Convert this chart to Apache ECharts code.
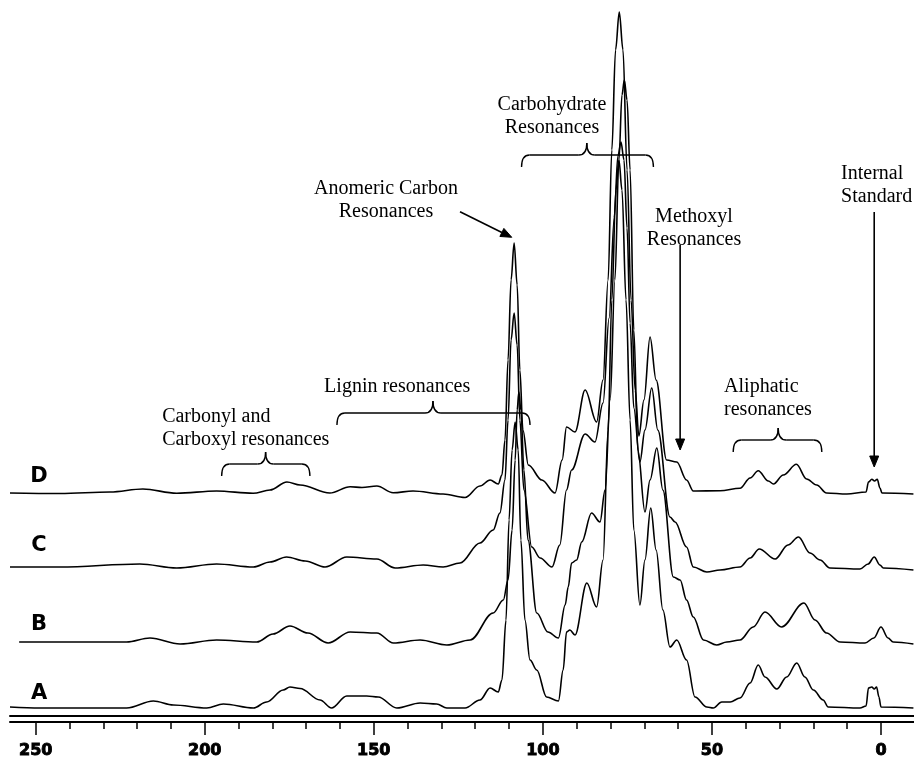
<!DOCTYPE html>
<html><head><meta charset="utf-8">
<script src="https://cdn.jsdelivr.net/npm/echarts@6/dist/echarts.min.js"></script>
<style>html,body{margin:0;padding:0;background:#fff}#c{width:914px;height:758px}</style>
</head><body><div id="c"></div><script>
// ---- axis ticks (ppm) ----
const majorTicks = [250, 200, 150, 100, 50, 0];
const minorTicks = [240, 230, 220, 210, 190, 180, 170, 160, 140, 130, 120, 110, 90, 80, 70, 60, 40, 30, 20, 10];

// ---- spectra: chemical shift (ppm) and intensity above each trace's own baseline ----
const spectrumLabels = ['A', 'B', 'C', 'D'];
const baselineOffsets = [8, 74, 148, 223];

const ppmA = [257.6, 248.7, 223.1, 215.2, 209.3, 199.4, 194.5, 185.6, 181.7, 176.8, 174.8, 171.8, 165.9, 162.5, 158.0, 152.1, 148.7, 143.2, 136.3, 131.4, 128.4, 123.0, 118.6, 115.6, 113.2, 112.1, 110.9, 110.0, 109.1, 108.2, 107.3, 106.5, 105.3, 103.8, 101.8, 98.9, 95.4, 94.0, 93.0, 92.0, 90.5, 87.0, 84.1, 82.2, 80.7, 79.6, 78.4, 77.5, 76.6, 75.4, 74.2, 73.1, 71.3, 69.8, 68.1, 66.5, 64.5, 62.4, 60.4, 57.5, 55.0, 51.5, 49.6, 47.1, 44.6, 41.7, 38.7, 36.3, 34.3, 30.8, 27.9, 24.9, 22.5, 20.0, 17.1, 15.6, 6.2, 4.4, 3.7, 2.7, 2.0, 1.3, 0.6, 0.0, -9.6];
const intA = [1, 0, 0, 7, 3, 0, 4, 0, 6, 18, 21, 19.5, 8, 0, 12, 12, 11, 0, 5, 4, 0, 0, 8, 20, 16, 28, 88, 188, 258, 286, 258, 168, 88, 48, 38, 11, 7, 38, 76, 78, 73, 125, 101, 148, 278, 408, 518, 548, 518, 408, 288, 178, 103, 148, 200, 158, 98, 61, 68, 48, 11, 1, 0, 6, 6, 10, 25, 43, 31, 19, 31, 45, 31, 18, 8, 1, 0, 2, 20, 21, 19, 21, 11, 1, 0];

const ppmB = [254.9, 236.9, 223.1, 216.2, 207.3, 196.5, 184.6, 179.8, 174.8, 169.5, 163.5, 157.0, 149.1, 144.2, 136.3, 128.4, 121.5, 114.7, 111.7, 110.3, 109.1, 108.2, 107.6, 107.1, 106.5, 105.6, 104.4, 101.8, 98.5, 95.4, 93.4, 92.5, 91.5, 90.0, 88.5, 85.6, 83.1, 81.6, 80.1, 78.7, 77.5, 76.6, 75.9, 75.1, 74.2, 73.1, 71.9, 69.8, 68.3, 66.3, 64.5, 61.4, 59.4, 57.5, 55.5, 52.5, 48.6, 45.6, 41.7, 37.8, 34.3, 29.4, 22.8, 19.5, 16.1, 12.1, 4.7, 2.1, 0.0, -2.1, -3.6, -9.6];
const intB = [0, 0, 0, 4, -2, 2, 0, 8, 16, 9, -1, 10, 9, -1, 2, -3, 2, 29, 42, 62, 112, 182, 232, 250, 232, 172, 102, 29, 10, 4, 37, 55, 79, 82, 100, 129, 120, 152, 242, 362, 482, 547, 562, 542, 472, 312, 192, 130, 162, 194, 152, 65, 62, 42, 25, 2, -3, 0, 2, 15, 30, 15, 39, 22, 9, 0, -1, 4, 15, 4, 0, -2];

const ppmC = [257.6, 242.8, 219.2, 208.3, 196.5, 185.6, 180.7, 175.8, 170.3, 164.4, 158.0, 149.1, 143.7, 135.4, 129.5, 124.5, 118.6, 114.7, 112.7, 111.2, 110.3, 109.4, 108.5, 107.6, 106.8, 105.6, 103.3, 100.8, 97.3, 95.0, 93.0, 91.5, 87.5, 84.6, 82.2, 80.4, 78.9, 77.8, 76.9, 76.0, 75.1, 74.2, 73.1, 71.3, 69.8, 67.8, 66.0, 62.4, 60.9, 57.5, 55.5, 51.5, 47.6, 41.7, 38.7, 36.0, 31.3, 27.5, 24.4, 21.0, 18.0, 15.1, 6.2, 3.8, 2.0, 0.3, -0.7, -9.6];
const intC = [1, 1, 4, 0, 4, 1, 6, 11, 7, 1, 11, 9, 0, 3, 1, 5, 25, 38, 55, 88, 148, 228, 255, 223, 148, 78, 21, 10, 1, 23, 78, 98, 134, 126, 165, 250, 350, 412, 426, 408, 340, 245, 160, 106, 138, 180, 138, 51, 46, 21, 1, -4, -2, 1, 10, 19, 9, 23, 31, 15, 8, 0, -1, 4, 11, 3, 0, -2];

const ppmD = [257.6, 242.8, 228.0, 218.3, 208.3, 196.5, 185.7, 180.7, 175.7, 171.8, 163.0, 157.0, 153.5, 149.1, 144.3, 138.4, 129.5, 123.0, 118.6, 115.6, 113.2, 112.1, 111.2, 110.3, 109.4, 108.5, 107.6, 106.8, 105.9, 104.3, 100.3, 96.4, 94.3, 93.0, 90.5, 87.5, 84.1, 82.2, 80.7, 79.6, 78.5, 77.4, 76.3, 75.1, 73.9, 72.7, 71.6, 70.1, 68.3, 66.5, 63.4, 60.4, 57.5, 55.5, 47.6, 41.7, 38.7, 36.3, 33.3, 31.8, 28.9, 25.0, 22.0, 19.0, 16.1, 10.1, 4.4, 3.7, 2.7, 1.9, 1.1, 0.3, -0.3, -9.6];
const intD = [0, -0.5, 1, 4, -0.3, 2, -0.3, 3, 11, 8, 0, 6.3, 5.5, 7, 0.3, 2, -1, -4.5, 7, 13, 9, 18, 53, 133, 213, 250, 208, 123, 63, 28, 13, 0, 33, 66, 61, 103, 71, 113, 213, 343, 443, 481, 443, 323, 193, 103, 57, 93, 156, 113, 33, 31, 13, 2, 2.3, 4.7, 15, 22.3, 12, 9, 18, 28.7, 14, 8, 0, -1, 1, 11, 13.7, 12, 13.7, 5, 0, -1];

const spectraPpm = [ppmA, ppmB, ppmC, ppmD];
const spectraInt = [intA, intB, intC, intD];

// ---- annotations, anchored in data coordinates [ppm, value] ----
const textNotes = [
  {lines: ['Carbohydrate', 'Resonances'], at: [97.3, 611], align: 'center'},
  {lines: ['Anomeric Carbon', 'Resonances'], at: [146.4, 527], align: 'center'},
  {lines: ['Methoxyl', 'Resonances'], at: [55.3, 499], align: 'center'},
  {lines: ['Internal', 'Standard'], at: [11.8, 542], align: 'left'},
  {lines: ['Aliphatic', 'resonances'], at: [46.4, 329], align: 'left'},
  {lines: ['Lignin resonances'], at: [143.1, 329], align: 'center'},
  {lines: ['Carbonyl and', 'Carboxyl resonances'], at: [212.6, 299], align: 'left'}
];
const braces = [ // [leftPpm, rightPpm, cuspPpm, value]
  [106.3, 67.3, 87.0, 561],
  [43.7, 17.5, 30.4, 276],
  [160.9, 103.8, 132.5, 303],
  [195.0, 168.9, 182.0, 252]
];
const arrows = [ // from [ppm,value] to [ppm,value]
  [[124.5, 504.3], [109.2, 478.7]],
  [[59.4, 471], [59.4, 266]],
  [[2.0, 504], [2.0, 249]]
];
const letterPos = [[249.0, 22], [249.0, 91], [249.0, 170], [249.0, 239]];

const chart = echarts.init(document.getElementById('c'), null, {renderer: 'canvas'});
const X_MIN = -9.77, X_MAX = 257.6;
const series = spectraPpm.map((pp, s) => ({
  type: 'line',
  name: spectrumLabels[s],
  data: pp.map((p, i) => [p, baselineOffsets[s] + spectraInt[s][i]]),
  showSymbol: false,
  smooth: 0.35,
  smoothMonotone: 'x',
  lineStyle: {color: '#000', width: 1.6},
  silent: true,
  animation: false,
  z: 3
}));

chart.setOption({
  animation: false,
  backgroundColor: '#fff',
  grid: {left: 10, right: 0, top: 0, bottom: 42, containLabel: false, outerBoundsMode: 'none'},
  xAxis: [
    {type: 'value', min: X_MIN, max: X_MAX, inverse: true, position: 'bottom',
     axisLine: {show: true, lineStyle: {color: '#000', width: 2}},
     axisTick: {show: false}, axisLabel: {show: false}, splitLine: {show: false}},
    {type: 'value', min: X_MIN, max: X_MAX, inverse: true, position: 'bottom', offset: 6,
     axisLine: {show: true, lineStyle: {color: '#000', width: 2}},
     axisTick: {show: true, customValues: majorTicks, length: 13, lineStyle: {color: '#000', width: 1.5}},
     axisLabel: {show: true, customValues: majorTicks, margin: 21, color: '#000',
       fontFamily: 'DejaVu Sans', fontWeight: 'bold', fontSize: 16,
       textBorderColor: '#000', textBorderWidth: 0.9},
     splitLine: {show: false}},
    {type: 'value', min: X_MIN, max: X_MAX, inverse: true, position: 'bottom', offset: 6,
     axisLine: {show: false},
     axisTick: {show: true, customValues: minorTicks, length: 7, lineStyle: {color: '#000', width: 1.5}},
     axisLabel: {show: false}, splitLine: {show: false}}
  ],
  yAxis: {type: 'value', min: 0, max: 716, show: false},
  series: series
});

function P(pt) { return chart.convertToPixel({seriesIndex: 0}, pt); }
const g = [];
const serif = '20px "Liberation Serif", "Times New Roman", serif';
textNotes.forEach(n => {
  const p = P(n.at);
  n.lines.forEach((t, k) => {
    g.push({type: 'text', x: p[0], y: p[1] + k * 23, silent: true,
      style: {text: t, font: serif, fill: '#000', align: n.align, verticalAlign: 'middle'}});
  });
});
const bs = {stroke: '#000', lineWidth: 1.4, fill: null};
braces.forEach(b => {
  const l = P([b[0], b[3]]), r = P([b[1], b[3]]), m = P([b[2], b[3]]);
  const y = l[1], d = 12, h = 12, rad = 8;
  const x1 = l[0], x2 = r[0], xm = m[0];
  g.push({type: 'bezierCurve', shape: {x1: x1, y1: y + d, cpx1: x1, cpy1: y, x2: x1 + rad, y2: y}, style: bs, silent: true});
  g.push({type: 'line', shape: {x1: x1 + rad, y1: y, x2: xm - rad, y2: y}, style: bs, silent: true});
  g.push({type: 'bezierCurve', shape: {x1: xm - rad, y1: y, cpx1: xm, cpy1: y, x2: xm, y2: y - h}, style: bs, silent: true});
  g.push({type: 'bezierCurve', shape: {x1: xm, y1: y - h, cpx1: xm, cpy1: y, x2: xm + rad, y2: y}, style: bs, silent: true});
  g.push({type: 'line', shape: {x1: xm + rad, y1: y, x2: x2 - rad, y2: y}, style: bs, silent: true});
  g.push({type: 'bezierCurve', shape: {x1: x2 - rad, y1: y, cpx1: x2, cpy1: y, x2: x2, y2: y + d}, style: bs, silent: true});
});
arrows.forEach(a => {
  const f = P(a[0]), t = P(a[1]);
  const dx = t[0] - f[0], dy = t[1] - f[1], L = Math.hypot(dx, dy);
  const ux = dx / L, uy = dy / L, hl = 11, hw = 4.5;
  const bx = t[0] - ux * hl, by = t[1] - uy * hl;
  g.push({type: 'line', shape: {x1: f[0], y1: f[1], x2: bx, y2: by}, style: {stroke: '#000', lineWidth: 1.6}, silent: true});
  g.push({type: 'polygon', shape: {points: [[t[0], t[1]], [bx - uy * hw, by + ux * hw], [bx + uy * hw, by - ux * hw]]},
    style: {fill: '#000', stroke: '#000', lineWidth: 1}, silent: true});
});
letterPos.forEach((lp, i) => {
  const p = P(lp);
  g.push({type: 'text', x: p[0], y: p[1], silent: true,
    style: {text: spectrumLabels[i], font: 'bold 21px "DejaVu Sans", sans-serif', fill: '#000', align: 'center', verticalAlign: 'middle'}});
});
chart.setOption({graphic: {elements: g}});
</script></body></html>
